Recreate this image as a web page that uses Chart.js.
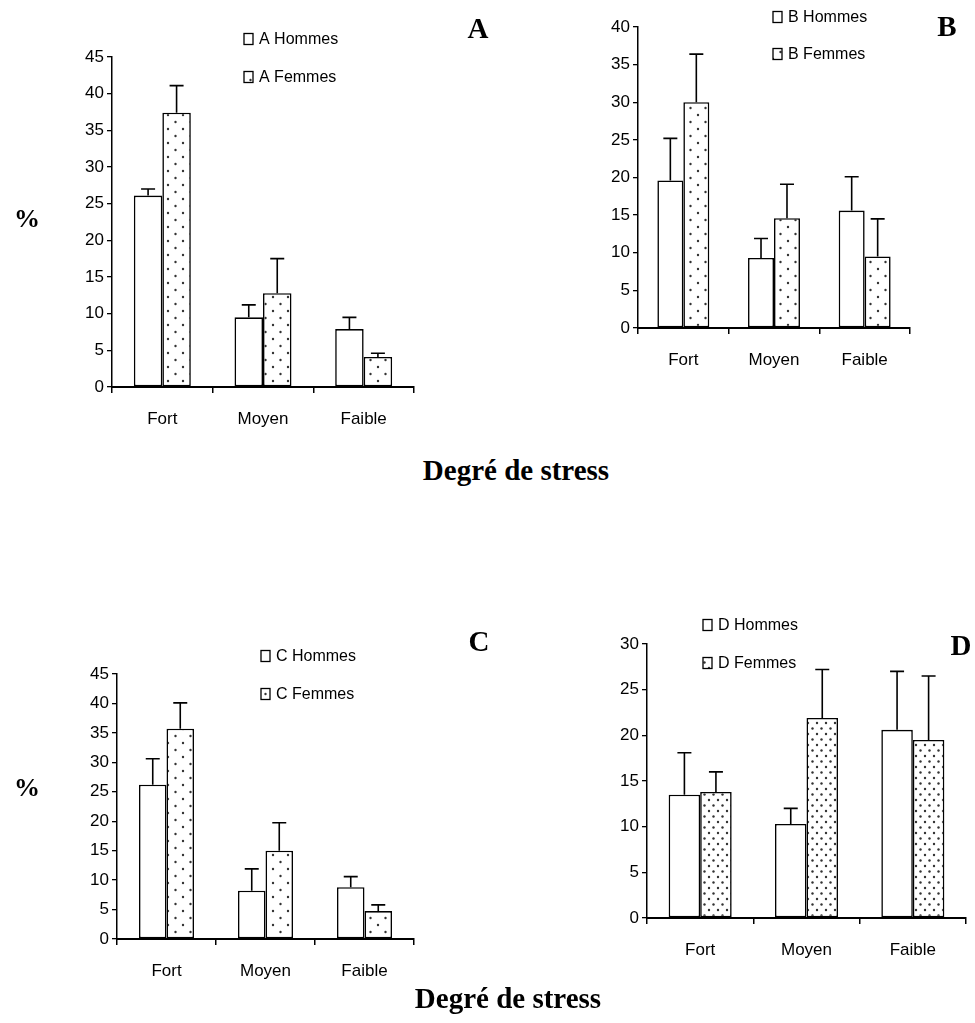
<!DOCTYPE html>
<html>
<head>
<meta charset="utf-8">
<script src="https://cdn.jsdelivr.net/npm/chart.js@4.4.0/dist/chart.umd.min.js"></script>
<style>
  body { margin: 0; background: #fff; }
  #wrap { position: relative; width: 975px; height: 1023px; overflow: hidden; }
  canvas { position: absolute; }
  .lbl { position: absolute; font-family: 'Liberation Serif', 'Times New Roman', serif; font-weight: bold; color: #000; transform: translate(-50%, -50%); white-space: nowrap; }
</style>
</head>
<body>
<div id="wrap">
  <canvas id="cA" width="500" height="440" style="left:0;top:0"></canvas>
  <canvas id="cB" width="475" height="380" style="left:500px;top:0"></canvas>
  <canvas id="cC" width="500" height="420" style="left:0;top:600px"></canvas>
  <canvas id="cD" width="475" height="420" style="left:500px;top:600px"></canvas>

  <div class="lbl" style="left:478px;top:28px;font-size:29px">A</div>
  <div class="lbl" style="left:947px;top:26px;font-size:29px">B</div>
  <div class="lbl" style="left:479px;top:641px;font-size:29px">C</div>
  <div class="lbl" style="left:961px;top:645px;font-size:29px">D</div>

  <div class="lbl" style="left:27px;top:219px;font-size:26px">%</div>
  <div class="lbl" style="left:27px;top:788px;font-size:26px">%</div>

  <div class="lbl" style="left:516px;top:470px;font-size:29px">Degré de stress</div>
  <div class="lbl" style="left:508px;top:998px;font-size:29px">Degré de stress</div>
</div>
<script>
'use strict' ;

const categories = ['Fort', 'Moyen', 'Faible'] ;

// A
const hommesA = [26.1, 9.5, 7.9] ;
const hommesAErr = [0.9, 1.7, 1.6] ;
const femmesA = [37.4, 12.8, 4.1] ;
const femmesAErr = [3.7, 4.7, 0.5] ;

// B
const hommesB = [19.6, 9.3, 15.6] ;
const hommesBErr = [5.6, 2.6, 4.5] ;
const femmesB = [30.0, 14.6, 9.5] ;
const femmesBErr = [6.4, 4.5, 5.0] ;

// C
const hommesC = [26.2, 8.2, 8.8] ;
const hommesCErr = [4.4, 3.7, 1.8] ;
const femmesC = [35.7, 15.0, 4.75] ;
const femmesCErr = [4.4, 4.75, 1.05] ;

// D
const hommesD = [13.5, 10.3, 20.6] ;
const hommesDErr = [4.6, 1.7, 6.4] ;
const femmesD = [13.8, 21.9, 19.5] ;
const femmesDErr = [2.2, 5.3, 7.0] ;

// y axis ranges
const yMaxA = 45, yMaxB = 40, yMaxC = 45, yMaxD = 30 ;
const yStep = 5 ;

const tickFont = { family: "'Liberation Sans', Arial, sans-serif", size: 17 } ;
const catFont = { family: "'Liberation Sans Narrow', 'Arial Narrow', 'Liberation Sans', sans-serif", size: 17 } ;
const legFont = "16px 'Liberation Sans Narrow', 'Arial Narrow', 'Liberation Sans', sans-serif" ;

function dots (w, h, pts, r, col)
{
  let c = document.createElement('canvas') ;
  c.width = w ; c.height = h ;
  let g = c.getContext('2d') ;
  g.fillStyle = '#fff' ;
  g.fillRect(0, 0, w, h) ;
  g.fillStyle = col ;
  for (let i = 0 ; i < pts.length ; i++) {
    g.beginPath() ;
    g.arc(pts[i][0], pts[i][1], r, 0, Math.PI * 2) ;
    g.fill() ;
  }
  return g.createPattern(c, 'repeat') ;
}

const sparse = dots(15, 14, [[3, 3], [10.5, 10]], 1.2, '#333') ;
const dense = dots(9, 11, [[2, 2], [6.5, 7.5]], 1.2, '#333') ;

// error bars, only upward, with a cap
const errPlugin = {
  id: 'errBars',
  afterDatasetsDraw (chart)
  {
    const ctx = chart.ctx ;
    const ys = chart.scales.y ;
    ctx.save() ;
    ctx.strokeStyle = '#000' ;
    ctx.lineWidth = 1.6 ;
    chart.data.datasets.forEach((ds, i) => {
      const meta = chart.getDatasetMeta(i) ;
      meta.data.forEach((bar, j) => {
        const top = ys.getPixelForValue(ds.data[j] + ds.errors[j]) ;
        ctx.beginPath() ;
        ctx.moveTo(bar.x, bar.y) ;
        ctx.lineTo(bar.x, top) ;
        ctx.moveTo(bar.x - 7, top) ;
        ctx.lineTo(bar.x + 7, top) ;
        ctx.stroke() ;
      }) ;
    }) ;
    ctx.restore() ;
  }
} ;

// legend drawn as two rows at a given place
const legPlugin = {
  id: 'sideLegend',
  afterDraw (chart, args, opts)
  {
    const ctx = chart.ctx ;
    ctx.save() ;
    ctx.font = legFont ;
    ctx.textBaseline = 'middle' ;
    chart.data.datasets.forEach((ds, i) => {
      const cy = opts.y + i * opts.gap ;
      ctx.fillStyle = ds.backgroundColor ;
      ctx.fillRect(opts.x, cy - 5.5, 9, 11) ;
      ctx.strokeStyle = '#000' ;
      ctx.lineWidth = 1.3 ;
      ctx.strokeRect(opts.x, cy - 5.5, 9, 11) ;
      ctx.fillStyle = '#000' ;
      ctx.fillText(ds.label, opts.x + 15, cy + 1) ;
    }) ;
    ctx.restore() ;
  }
} ;

function makeChart (id, letter, hom, homErr, fem, femErr, yMax, pat, box)
{
  const ctx = document.getElementById(id).getContext('2d') ;
  return new Chart(ctx, {
    type: 'bar',
    data: {
      labels: categories,
      datasets: [
        {
          label: letter + ' Hommes',
          data: hom,
          errors: homErr,
          backgroundColor: '#fff',
          borderColor: '#000',
          borderWidth: 1.6,
          borderSkipped: false
        },
        {
          label: letter + ' Femmes',
          data: fem,
          errors: femErr,
          backgroundColor: pat,
          borderColor: '#000',
          borderWidth: 1.6,
          borderSkipped: false
        }
      ]
    },
    options: {
      responsive: false,
      animation: false,
      devicePixelRatio: 1,
      layout: { padding: { top: box.top, right: box.right, left: 0, bottom: 0 } },
      datasets: { bar: { barPercentage: 1, categoryPercentage: box.cat } },
      plugins: {
        legend: { display: false },
        tooltip: { enabled: false },
        sideLegend: box.leg
      },
      scales: {
        x: {
          grid: { drawOnChartArea: false, drawTicks: true, tickLength: 6, color: '#000', lineWidth: 1.5, offset: true },
          border: { display: true, color: '#000', width: 2 },
          ticks: { color: '#000', font: catFont, padding: 16 },
          afterFit (s) { s.height = box.xh ; }
        },
        y: {
          min: 0,
          max: yMax,
          ticks: { stepSize: yStep, color: '#000', font: tickFont, padding: 3 },
          grid: { drawOnChartArea: false, drawTicks: true, tickLength: 5, color: '#000', lineWidth: 1.3 },
          border: { display: true, color: '#000', width: 1.5 },
          afterFit (s) { s.width = box.yw ; }
        }
      }
    },
    plugins: [errPlugin, legPlugin]
  }) ;
}

makeChart('cA', 'A', hommesA, hommesAErr, femmesA, femmesAErr, yMaxA, sparse,
  { top: 57, right: 86, yw: 112, xh: 53, cat: 0.566, leg: { x: 244, y: 39, gap: 38 } }) ;
makeChart('cB', 'B', hommesB, hommesBErr, femmesB, femmesBErr, yMaxB, sparse,
  { top: 27, right: 65, yw: 138, xh: 52, cat: 0.573, leg: { x: 273, y: 17, gap: 37 } }) ;
makeChart('cC', 'C', hommesC, hommesCErr, femmesC, femmesCErr, yMaxC, sparse,
  { top: 74, right: 86, yw: 117, xh: 81, cat: 0.556, leg: { x: 261, y: 56, gap: 38 } }) ;
makeChart('cD', 'D', hommesD, hommesDErr, femmesD, femmesDErr, yMaxD, dense,
  { top: 44, right: 9, yw: 147, xh: 102, cat: 0.593, leg: { x: 203, y: 25, gap: 38 } }) ;
</script>
</body>
</html>
